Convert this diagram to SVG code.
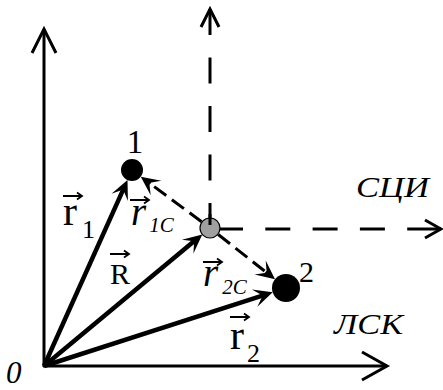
<svg xmlns="http://www.w3.org/2000/svg" width="443" height="390" viewBox="0 0 443 390">
<style>
.ax{fill:none;stroke:#000;stroke-width:3}
.dax{fill:none;stroke:#000;stroke-width:3;stroke-dasharray:26 22.5}
.vec{fill:none;stroke:#000;stroke-width:4.5}
.dvec{fill:none;stroke:#000;stroke-width:3;stroke-dasharray:15 7}
.va{fill:none;stroke:#000;stroke-width:1.8}
text{font-family:'Liberation Serif',serif;fill:#000}
.i{font-style:italic}
</style>
<defs>
<marker id="ah" markerUnits="userSpaceOnUse" viewBox="-20 -10 22 20" markerWidth="22" markerHeight="20" refX="-10" refY="0" orient="auto">
<path d="M0,0 L-19,-9 L-12,-1.5 L-12,1.5 L-19,9 Z" fill="#000" stroke="none"/>
</marker>
<g id="va"><path class="va" d="M0,0 H19 M14,-3.5 L19,0 L14,3.5"/></g>
</defs>
<g id="connectors">
<g id="axis-y"><path class="ax" d="M44,367 V29"/><path class="ax" d="M32,53 L44,29 L56,53"/></g>
<g id="axis-x"><path class="ax" d="M43,366 H387"/><path class="ax" d="M362,352 L387,366 L362,380"/></g>
<g id="axis-cy"><path class="dax" d="M210,9 V228"/><path class="ax" d="M201,27 L210,9 L219,27"/></g>
<g id="axis-cx"><path class="ax" d="M218,229 H441" style="stroke-dasharray:25 22.3 25 22.3 25 22.3 25 22.3 40 10"/><path class="ax" d="M425,220 L441,229 L425,238"/></g>
<path id="v-r1" class="vec" d="M44,366 L123.4,189.1" marker-end="url(#ah)"/>
<path id="v-R" class="vec" d="M44,366 L194.6,240.8" marker-end="url(#ah)"/>
<path id="v-r2" class="vec" d="M44,366 L263.2,295.4" marker-end="url(#ah)"/>
<path id="v-r1c" class="dvec" d="M201.6,221.7 L148.8,182.6" marker-end="url(#ah)"/>
<path id="v-r2c" class="dvec" d="M218.2,234.5 L267.2,273.1" marker-end="url(#ah)"/>
</g>
<g id="node-c"><circle cx="210" cy="228" r="10" fill="#a0a0a0" stroke="#000" stroke-width="1.2"/><path class="ax" d="M210,214 V225"/></g>
<g id="node-1"><circle cx="132" cy="170" r="11" fill="#000"/><text x="135" y="153" font-size="33" text-anchor="middle">1</text></g>
<g id="node-2"><circle cx="286" cy="288" r="14" fill="#000"/><text x="299" y="282" font-size="30">2</text></g>
<g id="labels">
<text class="i" x="6" y="383" font-size="31">0</text>
<text class="i" x="356" y="197" font-size="29" textLength="73" lengthAdjust="spacingAndGlyphs">СЦИ</text>
<text class="i" x="334" y="334" font-size="30" textLength="69" lengthAdjust="spacingAndGlyphs">ЛСК</text>
<use href="#va" x="63" y="196"/>
<text x="63" y="225" font-size="42">r<tspan font-size="26" dx="5" dy="13">1</tspan></text>
<use href="#va" x="110" y="254"/>
<text x="110" y="284" font-size="30">R</text>
<use href="#va" x="130" y="200"/>
<text class="i" x="131" y="225" font-size="39">r<tspan font-size="21" dx="3" dy="7">1C</tspan></text>
<use href="#va" x="203" y="262"/>
<text class="i" x="203" y="286" font-size="39">r<tspan font-size="21" dx="4" dy="8">2C</tspan></text>
<use href="#va" x="230" y="317"/>
<text x="230" y="349" font-size="42">r<tspan font-size="26" dx="3" dy="13">2</tspan></text>
</g>
</svg>
